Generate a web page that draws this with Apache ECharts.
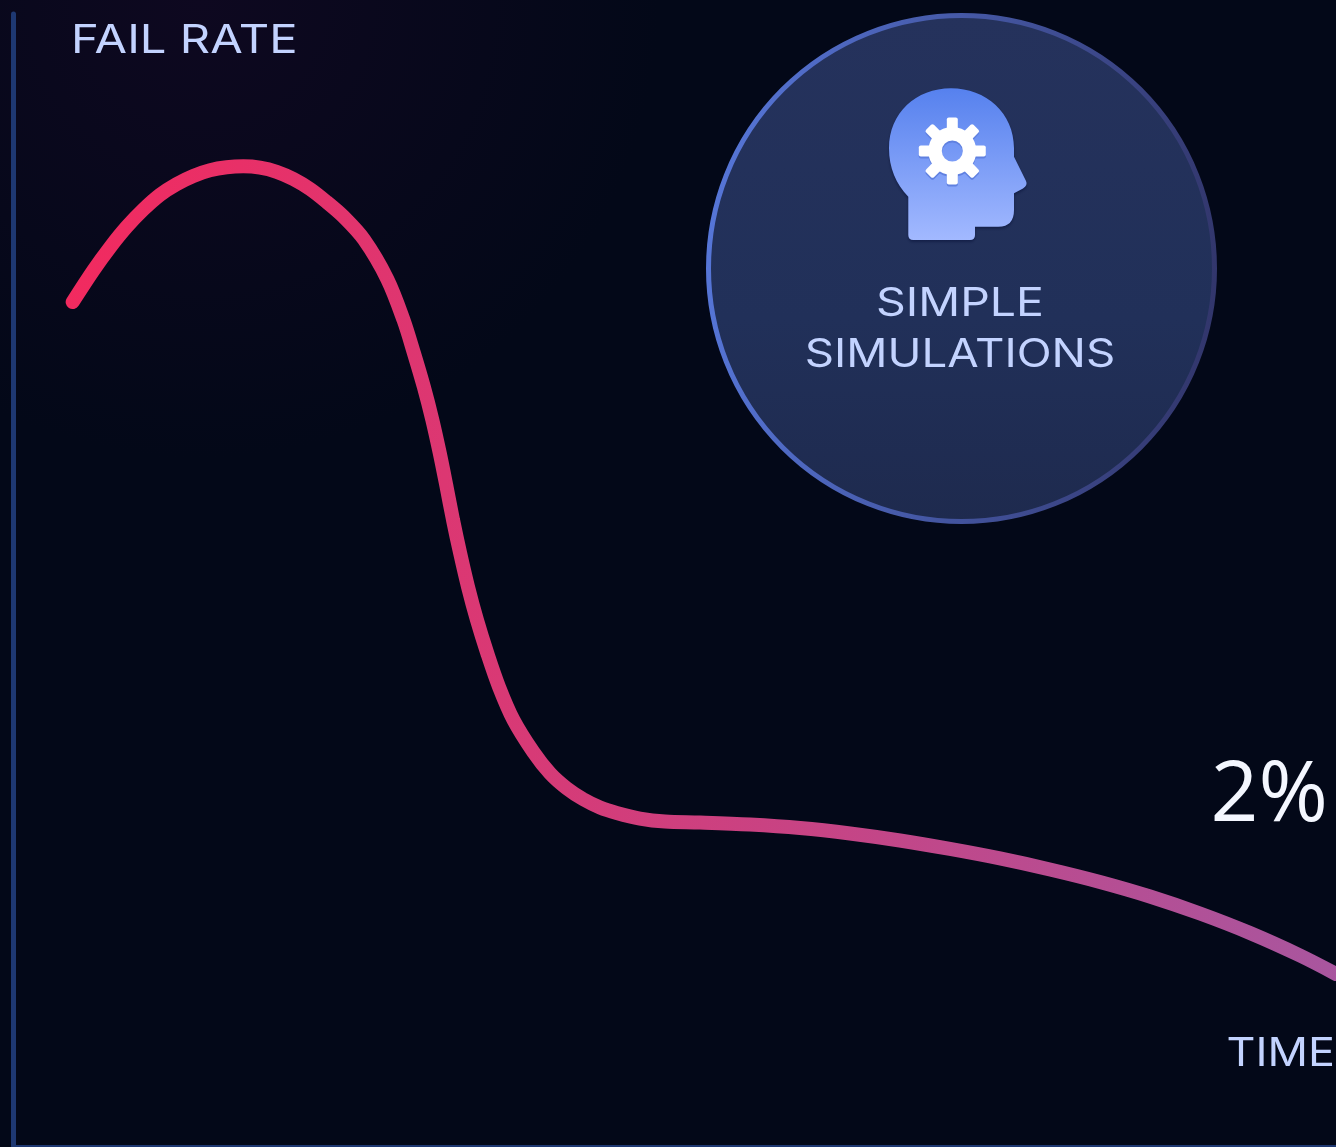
<!DOCTYPE html>
<html>
<head>
<meta charset="utf-8">
<style>
  html, body { margin: 0; padding: 0; background: #030818; overflow: hidden; }
  #main { width: 1336px; height: 1147px; }
</style>
<script src="https://cdn.jsdelivr.net/npm/echarts@6/dist/echarts.min.js"></script>
</head>
<body>
<div id="main"></div>
<script>
// time axis runs 0-100, fail rate in percent
const timeValues = [4.51, 6.07, 7.33, 8.59, 9.85, 11.11, 12.37, 13.63, 14.89, 16.15, 17.41, 18.67, 19.93, 21.19, 22.45, 23.71, 24.97, 26.53, 28.29, 29.52, 30.31, 31.05, 31.70, 32.26, 32.77, 33.26, 33.80, 34.39, 35.07, 35.85, 36.73, 37.83, 39.33, 40.59, 41.85, 43.11, 44.37, 45.63, 47.39, 49.28, 51.93, 55.71, 59.49, 63.27, 67.04, 70.82, 74.60, 78.38, 82.16, 85.94, 89.72, 93.50, 97.28, 100];
const failRates = [9.871, 10.240, 10.509, 10.749, 10.953, 11.125, 11.251, 11.346, 11.412, 11.447, 11.458, 11.443, 11.394, 11.310, 11.193, 11.041, 10.871, 10.602, 10.140, 9.661, 9.271, 8.881, 8.491, 8.102, 7.711, 7.322, 6.932, 6.542, 6.152, 5.763, 5.372, 4.982, 4.608, 4.359, 4.184, 4.055, 3.959, 3.895, 3.830, 3.795, 3.784, 3.760, 3.719, 3.655, 3.573, 3.474, 3.363, 3.234, 3.088, 2.918, 2.719, 2.491, 2.228, 2.012];
const xAxisName = "TIME";
const yAxisName = "FAIL RATE";
const endValueLabel = "2%";
const badgeLines = ["SIMPLE", "SIMULATIONS"];

const labelFont = "Inter";
const labelColor = "#c3d3ff";
const axisColor = "#1e3872";

const chart = echarts.init(document.getElementById("main"), null, { renderer: "canvas" });

// the graphic component has no plain path type, so the head goes in as a shape
const headPath = "M908.3 196.7 V235 Q908.3 240 913.3 240 H970 Q975 240 975 235 V226.7 H998.3 Q1014 226.7 1014 210 V193.3 L1023 188.5 Q1028 185 1026 181 L1014 156.7 V148.3 C1014 113 986 88.3 951 88.3 C916 88.3 889 113 889 148.3 C889 168 896 184 908.3 196.7 Z";
echarts.graphic.registerShape("headIcon", echarts.graphic.extendPath(headPath));

// gear is drawn twice, the blue copy sits 2px lower as its shadow
function gear(offsetY, color, z) {
  const teeth = [0, 45, 90, 135, 180, 225, 270, 315].map(function (deg) {
    return {
      type: "rect",
      x: 952.3,
      y: 151 + offsetY,
      rotation: deg * Math.PI / 180,
      shape: { x: -5.5, y: -33.5, width: 11, height: 15, r: 2 },
      style: { fill: color },
      z: z
    };
  });
  return teeth.concat([{
    type: "ring",
    shape: { cx: 952.3, cy: 151 + offsetY, r: 24, r0: 10.5 },
    style: { fill: color },
    z: z
  }]);
}

// Montserrat is not installed, so Inter gets stretched to the same width
function label(text, x, y, align, stretch) {
  return {
    type: "text",
    x: x,
    y: y,
    scaleX: stretch,
    style: { text: text, fontFamily: labelFont, fontSize: 39, fill: labelColor, align: align, verticalAlign: "middle" },
    z: 13
  };
}

chart.setOption({
  animation: false,
  backgroundColor: new echarts.graphic.RadialGradient(0.15, 0, 0.4, [
    { offset: 0, color: "#0e0820" },
    { offset: 1, color: "#030818" }
  ]),
  grid: { left: 13, right: 0, top: 14, bottom: 1, outerBoundsMode: "none" },
  xAxis: {
    type: "value",
    min: 0,
    max: 100,
    axisLine: { show: true, lineStyle: { color: axisColor, width: 2 } },
    axisTick: { show: false },
    axisLabel: { show: false },
    splitLine: { show: false }
  },
  yAxis: {
    type: "value",
    min: 0,
    max: 13.24,
    axisLine: { show: true, lineStyle: { color: axisColor, width: 5 } },
    axisTick: { show: false },
    axisLabel: { show: false },
    splitLine: { show: false }
  },
  series: [{
    type: "line",
    data: timeValues.map(function (t, i) { return [t, failRates[i]]; }),
    smooth: 0.33,
    showSymbol: false,
    lineStyle: {
      width: 14,
      cap: "round",
      color: new echarts.graphic.LinearGradient(0, 0, 1, 0, [
        { offset: 0, color: "#f22a5f" },
        { offset: 1, color: "#a8569f" }
      ])
    }
  }],
  graphic: [
    {
      type: "circle",
      shape: { cx: 961.5, cy: 268.5, r: 253 },
      style: {
        fill: new echarts.graphic.LinearGradient(0, 0, 0, 1, [
          { offset: 0, color: "#25325c" },
          { offset: 0.6, color: "#213059" },
          { offset: 1, color: "#1e2a4e" }
        ]),
        stroke: new echarts.graphic.LinearGradient(0, 0.4, 1, 0.5, [
          { offset: 0, color: "#5676d8" },
          { offset: 1, color: "#32366c" }
        ]),
        lineWidth: 5
      },
      z: 10
    },
    {
      type: "headIcon",
      style: {
        fill: new echarts.graphic.LinearGradient(0, 0, 0, 1, [
          { offset: 0, color: "#5681ee" },
          { offset: 1, color: "#a2b9ff" }
        ]),
        shadowColor: "rgba(10,20,60,0.6)",
        shadowBlur: 3,
        shadowOffsetY: 2
      },
      z: 11
    }
  ].concat(gear(2, "#5f80e0", 12), gear(0, "#ffffff", 13), [
    label(yAxisName, 71, 41, "left", 1.21),
    label(xAxisName, 1335, 1054, "right", 1.15),
    label(badgeLines[0], 960, 304, "center", 1.19),
    label(badgeLines[1], 960, 355, "center", 1.17),
    {
      type: "text",
      x: 1328,
      y: 797,
      style: { text: endValueLabel, fontFamily: "Open Sans", fontSize: 84, fill: "#f4f7ff", align: "right", verticalAlign: "middle" },
      z: 13
    }
  ])
});

window.onresize = function () {
  chart.resize();
};
</script>
</body>
</html>
